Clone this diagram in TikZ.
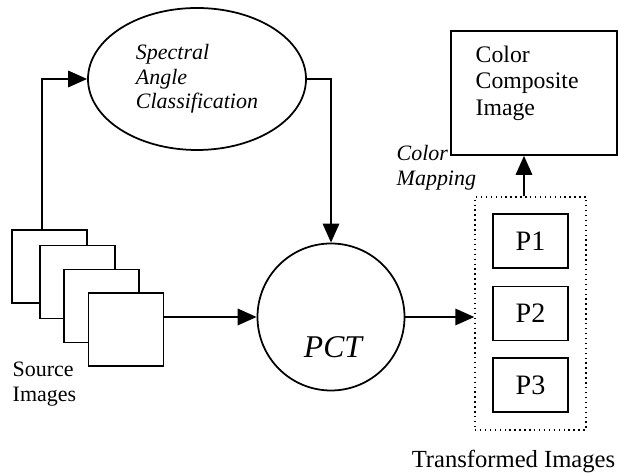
\documentclass[tikz,border=0pt]{standalone}
\usepackage{fontspec}
\setmainfont{Liberation Serif}
\usetikzlibrary{arrows.meta,shapes.geometric}

\begin{document}
\begin{tikzpicture}[line width=1pt, >={Triangle[length=3.8mm, width=3.3mm]},
  srcbox/.style={draw, fill=white, minimum width=1.5cm, minimum height=1.46cm},
  pbox/.style={draw, minimum width=1.5cm, minimum height=1.08cm, font=\fontsize{16}{18}\selectfont}]
%\draw [help lines] (0,0) grid (12,9);
\useasboundingbox (0,0) rectangle (12.38,9.48);
\node [draw, ellipse, minimum width=4.36cm, minimum height=2.84cm, align=left,
  font=\fontsize{12.5}{14}\selectfont\itshape] (sac) at (3.94,7.90) {Spectral\\Angle\\Classification};
\node [srcbox] (s1) at (0.99,4.15) {};
\node [srcbox] (s2) at (1.55,3.84) {};
\node [srcbox] (s3) at (2.03,3.36) {};
\node [srcbox] (s4) at (2.52,2.89) {};
\node [align=left, anchor=west, font=\fontsize{12.5}{14.2}\selectfont] (srclbl) at (0.12,1.79) {Source\\Images};
\node [draw, circle, minimum size=2.94cm] (pct) at (6.62,3.14) {};
\node [font=\fontsize{18}{20}\selectfont\itshape] (pctlbl) at (6.66,2.54) {PCT};
\node [draw, dotted, line width=0.8pt, minimum width=2.22cm, minimum height=4.66cm] (tbox) at (10.61,3.21) {};
\node [pbox] (p1) at (10.61,4.66) {P1};
\node [pbox] (p2) at (10.61,3.21) {P2};
\node [pbox] (p3) at (10.61,1.78) {P3};
\node [font=\fontsize{14}{16}\selectfont] (tlbl) at (10.27,0.24) {Transformed Images};
\node [draw, minimum width=3.32cm, minimum height=2.48cm] (ccbox) at (10.68,7.62) {};
\node [align=left, anchor=west, font=\fontsize{13.5}{15}\selectfont] (cclbl) at (9.38,7.82) {Color\\Composite\\Image};
\node [align=left, anchor=west, font=\fontsize{12.5}{14}\selectfont\itshape] (maplbl) at (7.80,6.13) {Color\\Mapping};
\draw [->] ([xshift=-0.15cm]s1.north) |- (sac.west);
\draw [->] (sac.east) -| (pct.north);
\draw [->] (s4.east |- pct.west) -- (pct.west);
\draw [->] (pct.east) -- (pct.east -| tbox.west);
\draw [->] ([xshift=-0.13cm]tbox.north) -- ([xshift=-0.13cm]tbox.north |- ccbox.south);
\end{tikzpicture}
\end{document}
